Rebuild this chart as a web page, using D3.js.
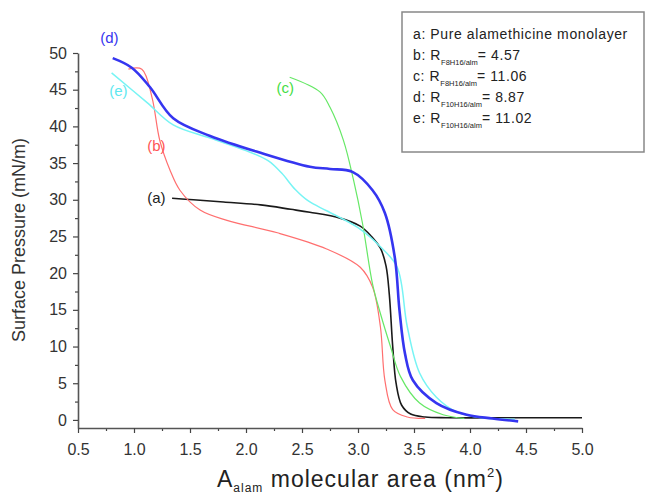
<!DOCTYPE html>
<html>
<head>
<meta charset="utf-8">
<script src="https://cdn.jsdelivr.net/npm/d3@7"></script>
<style>
  html, body { margin: 0; padding: 0; background: #fff; }
  text { font-family: Arial, "Liberation Sans", sans-serif; }
</style>
</head>
<body>
<div id="chart"></div>
<script>
// isotherm data: [area nm^2, pressure mN/m]
var curveA = [[1.34,30.2],[1.53,30.0],[1.8,29.7],[2.13,29.3],[2.4,28.7],[2.57,28.3],[2.84,27.5],[3.02,26.4],
  [3.12,25.0],[3.2,23.4],[3.25,21.0],[3.28,17.0],[3.31,10.0],[3.34,5.0],[3.39,2.0],[3.47,0.8],[3.6,0.4],[3.8,0.3],[4.5,0.3],[5.0,0.3]];
var curveB = [[0.95,47.8],[1.07,47.8],[1.16,44.0],[1.23,38.1],[1.32,34.1],[1.41,31.3],[1.59,28.6],[1.83,27.2],
  [2.28,25.5],[2.72,23.3],[3.02,20.8],[3.13,18.1],[3.2,12.7],[3.24,5.4],[3.31,1.4],[3.44,0.4],[3.6,0.2]];
var curveC = [[2.39,46.7],[2.66,44.7],[2.75,42.6],[2.87,38.1],[2.96,32.7],[3.04,26.8],[3.13,18.5],[3.2,14.5],
  [3.29,10.0],[3.38,5.9],[3.55,2.3],[3.76,0.7],[3.95,0.2]];
var curveD = [[0.81,49.3],[0.98,48.0],[1.14,45.4],[1.35,41.1],[1.68,38.7],[2.13,36.4],[2.57,34.5],[2.75,34.2],
  [2.95,33.8],[3.13,31.3],[3.24,28.2],[3.33,22.0],[3.37,15.0],[3.42,9.0],[3.49,5.4],[3.7,2.3],[3.97,0.7],[4.2,0.2],[4.43,-0.2]];
var curveE = [[0.8,47.3],[1.12,43.2],[1.35,40.2],[1.68,38.4],[2.0,36.7],[2.2,35.3],[2.32,33.6],[2.44,31.4],
  [2.56,29.8],[2.72,28.5],[3.0,26.2],[3.2,23.6],[3.35,20.8],[3.44,12.7],[3.55,6.4],[3.7,3.1],[3.88,1.1],[4.1,0.3],[4.4,0.1]];

var xTicks = [0.5, 1.0, 1.5, 2.0, 2.5, 3.0, 3.5, 4.0, 4.5, 5.0];
var yTicks = [0, 5, 10, 15, 20, 25, 30, 35, 40, 45, 50];

var series = [
  {name: 'a', pts: curveA, color: '#1a1a1a', width: 1.6},
  {name: 'b', pts: curveB, color: '#ff6f6f', width: 1.2},
  {name: 'c', pts: curveC, color: '#66e866', width: 1.2},
  {name: 'e', pts: curveE, color: '#77f4f4', width: 1.5},
  {name: 'd', pts: curveD, color: '#3535f0', width: 2.6}
];

var width = 647, height = 497;

var svg = d3.select('#chart').append('svg')
  .attr('width', width)
  .attr('height', height)

var x = d3.scaleLinear().domain([0.5, 5.0]).range([78, 582])
var y = d3.scaleLinear().domain([-1.1, 50]).range([428, 53])

// minor ticks first
svg.append('g')
  .attr('transform', 'translate(0,428)')
  .call(d3.axisBottom(x).tickValues(d3.range(0.75, 5.0, 0.5)).tickSize(3).tickFormat(''))
  .call(g => g.select('.domain').remove())
svg.append('g')
  .attr('transform', 'translate(78,0)')
  .call(d3.axisLeft(y).tickValues(d3.range(2.5, 50, 5)).tickSize(3).tickFormat(''))
  .call(g => g.select('.domain').remove())

var xAxis = svg.append('g')
  .attr('transform', 'translate(0,428)')
  .call(d3.axisBottom(x).tickValues(xTicks).tickSize(5).tickSizeOuter(0).tickFormat(d3.format('.1f')))
var yAxis = svg.append('g')
  .attr('transform', 'translate(78,0)')
  .call(d3.axisLeft(y).tickValues(yTicks).tickSize(5).tickSizeOuter(0))

svg.selectAll('.tick line').attr('stroke', '#444').attr('stroke-width', 1.2)
svg.selectAll('.domain').attr('stroke', '#555').attr('stroke-width', 1.6)
xAxis.selectAll('text').attr('font-size', 16).attr('fill', '#333').attr('dy', '1.2em')
yAxis.selectAll('text').attr('font-size', 16).attr('fill', '#333').attr('x', -11)

// curves
var line = d3.line()
  .x(d => x(d[0]))
  .y(d => y(d[1]))
  .curve(d3.curveCatmullRom.alpha(0.5))

svg.append('g').selectAll('path')
  .data(series)
  .enter()
  .append('path')
  .attr('d', d => line(d.pts))
  .attr('fill', 'none')
  .attr('stroke', d => d.color)
  .attr('stroke-width', d => d.width)

// curve labels
var tags = [
  {t: '(d)', px: 0.78, py: 51.4, color: '#3535f0'},
  {t: '(e)', px: 0.86, py: 44.2, color: '#5ee8f0'},
  {t: '(b)', px: 1.2, py: 36.6, color: '#ff5555'},
  {t: '(a)', px: 1.2, py: 29.6, color: '#222'},
  {t: '(c)', px: 2.35, py: 44.6, color: '#44dd44'}
];
svg.selectAll('.tag')
  .data(tags)
  .enter()
  .append('text')
  .attr('x', d => x(d.px))
  .attr('y', d => y(d.py))
  .attr('text-anchor', 'middle')
  .attr('font-size', 15)
  .attr('fill', d => d.color)
  .text(d => d.t)

// axis titles
svg.append('text')
  .attr('transform', 'translate(25,240) rotate(-90)')
  .attr('text-anchor', 'middle')
  .attr('font-size', 18)
  .attr('fill', '#333')
  .text('Surface Pressure (mN/m)')

var xt = svg.append('text')
  .attr('x', 217)
  .attr('y', 487)
  .attr('font-size', 23)
  .attr('letter-spacing', 1)
  .attr('fill', '#222')
xt.append('tspan').text('A')
xt.append('tspan').attr('font-size', 12).attr('dy', 5).text('alam')
xt.append('tspan').attr('dy', -5).text(' molecular area (nm')
xt.append('tspan').attr('font-size', 13).attr('dy', -10).text('2')
xt.append('tspan').attr('dy', 10).text(')')

// legend
var legendNames = ['a: Pure alamethicine monolayer', 'b: R', 'c: R', 'd: R', 'e: R'];
var legendSubs = ['', 'F8H16/alm', 'F8H16/alm', 'F10H16/alm', 'F10H16/alm'];
var legendVals = ['', '= 4.57', '= 11.06', '= 8.87', '= 11.02'];

var legend = svg.append('g')
legend.append('rect')
  .attr('x', 402).attr('y', 12)
  .attr('width', 242).attr('height', 140)
  .attr('fill', '#fff')
  .attr('stroke', '#888')
  .attr('stroke-width', 1.5)

legendNames.forEach(function(n, i) {
  var t = legend.append('text')
    .attr('x', 413)
    .attr('y', 39 + i * 21)
    .attr('font-size', 14)
    .attr('letter-spacing', 0.6)
    .attr('fill', '#222')
  t.append('tspan').text(n)
  if (legendSubs[i]) {
    t.append('tspan').attr('font-size', 7.5).attr('letter-spacing', 0).attr('dy', 5).text(legendSubs[i])
    t.append('tspan').attr('dy', -5).text(legendVals[i])
  }
})
</script>
</body>
</html>
